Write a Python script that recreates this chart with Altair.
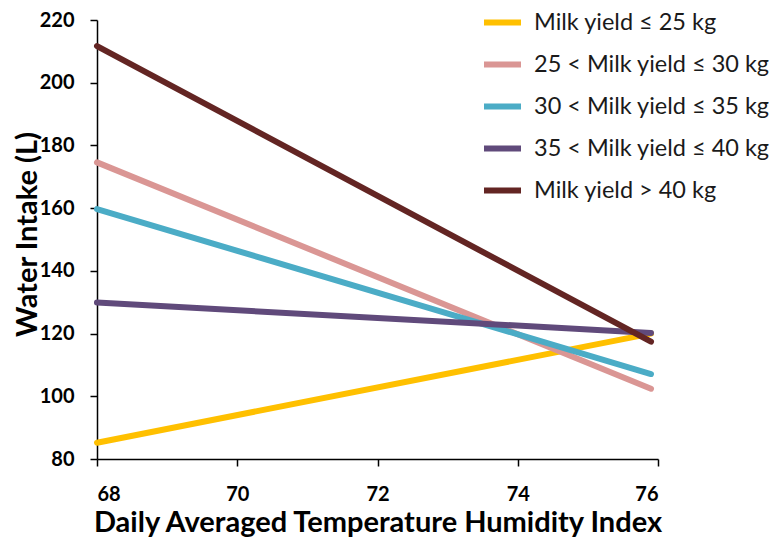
import altair as alt
import pandas as pd

series = [
    "Milk yield ≤ 25 kg",
    "25 < Milk yield ≤ 30 kg",
    "30 < Milk yield ≤ 35 kg",
    "35 < Milk yield ≤ 40 kg",
    "Milk yield > 40 kg",
]
colors = ["#FFC000", "#DA9694", "#4BACC6", "#604A7B", "#632523"]
thi = [68.0, 75.9]
intake_start = [85.2, 174.6, 159.7, 129.9, 211.7]
intake_end = [120.0, 102.4, 107.1, 120.2, 117.4]

rows = []
for i, s in enumerate(series):
    rows.append({"group": s, "order": i, "THI": thi[0], "intake": intake_start[i]})
    rows.append({"group": s, "order": i, "THI": thi[1], "intake": intake_end[i]})
df = pd.DataFrame(rows)

FONT = "Lato"

chart = (
    alt.Chart(df)
    .mark_line(strokeWidth=6, strokeCap="round")
    .encode(
        x=alt.X(
            "THI:Q",
            scale=alt.Scale(domain=[68, 76], nice=False, zero=False),
            axis=alt.Axis(
                title="Daily Averaged Temperature Humidity Index",
                values=[68, 70, 72, 74, 76],
                grid=False,
                domainColor="black",
                domainWidth=1.5,
                tickColor="black",
                tickWidth=1.5,
                tickSize=7,
                labelPadding=18,
                labelFont=FONT,
                labelFontSize=20,
                labelFontWeight="bold",
                labelColor="black",
                titleFont=FONT,
                titleFontSize=29,
                titleFontWeight="bold",
                titleColor="black",
                titleBaseline="alphabetic",
                titleY=72,
            ),
        ),
        y=alt.Y(
            "intake:Q",
            scale=alt.Scale(domain=[80, 220], nice=False, zero=False),
            axis=alt.Axis(
                title="Water Intake (L)",
                values=[80, 100, 120, 140, 160, 180, 200, 220],
                grid=False,
                domainColor="black",
                domainWidth=1.5,
                tickColor="black",
                tickWidth=1.5,
                tickSize=7,
                labelPadding=16,
                labelFont=FONT,
                labelFontSize=20,
                labelFontWeight="bold",
                labelColor="black",
                titleFont=FONT,
                titleFontSize=29,
                titleFontWeight="bold",
                titleColor="black",
                titleAngle=-90,
                titleBaseline="middle",
                titleAlign="center",
                titleX=-70,
                titleY=214,
            ),
        ),
        color=alt.Color(
            "group:N",
            scale=alt.Scale(domain=series, range=colors),
            sort=series,
            legend=alt.Legend(
                title=None,
                orient="none",
                legendX=384,
                legendY=-19,
                symbolType="stroke",
                symbolSize=1369,
                symbolStrokeWidth=6,
                labelFont=FONT,
                labelFontSize=23.5,
                labelColor="#1a1a1a",
                labelOffset=10,
                labelLimit=0,
                rowPadding=8,
                padding=0,
            ),
        ),
        order=alt.Order("order:Q"),
    )
    .properties(
        width=561,
        height=439,
        autosize=alt.AutoSizeParams(type="none"),
        padding={"left": 89, "top": 12, "right": 118, "bottom": 79},
    )
    .configure_view(stroke=None)
)

chart.save("out.html", embed_options={"renderer": "svg", "actions": False})
